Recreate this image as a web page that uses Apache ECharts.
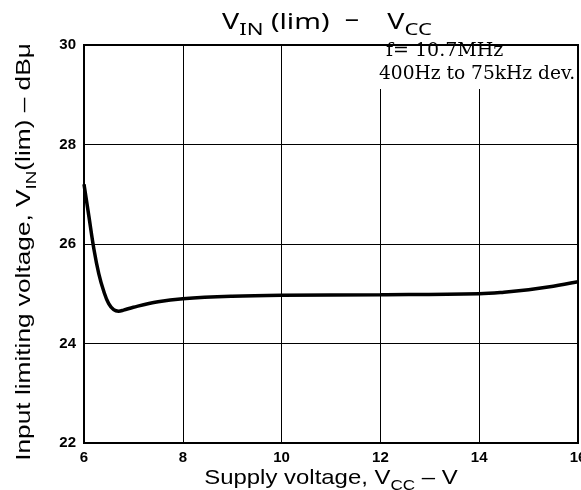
<!DOCTYPE html>
<html><head><meta charset="utf-8">
<script src="https://cdn.jsdelivr.net/npm/echarts@6/dist/echarts.min.js"></script>
<style>html,body{margin:0;padding:0;background:#fff}#c{width:581px;height:490px}</style>
</head><body><div id="c"></div>
<script>
const xTicks = [6, 8, 10, 12, 14, 16];
const yTicks = [22, 24, 26, 28, 30];
const vcc = [6.0, 6.1, 6.2, 6.3, 6.4, 6.5, 6.6, 6.7, 6.8, 7.0, 7.5, 8.0, 9.0, 10, 12, 14, 14.5, 15, 15.5, 16];
const vinLim = [27.2, 26.55, 25.9, 25.4, 25.05, 24.8, 24.68, 24.65, 24.67, 24.73, 24.84, 24.9, 24.95, 24.97, 24.98, 25.0, 25.03, 25.08, 25.15, 25.24];
const notes = ['f= 10.7MHz', '400Hz to 75kHz dev.'];
const titleParts = ['{a|V}{s|IN}{a| (lim)}', '–', '{a|V}{s|CC}'];

const chart = echarts.init(document.getElementById('c'));
const sans = '"Liberation Sans", Arial, sans-serif';
const noto = '"Noto Sans", "Liberation Sans", sans-serif';
const tickFont = {fontFamily: '"Liberation Sans Narrow", "Liberation Sans", Arial, sans-serif', fontWeight: 'bold', fontSize: 15, color: '#000'};
const richOf = (fam, big, small, shift) => ({
  a: {fontFamily: fam, fontSize: big, fill: '#000', lineHeight: big + 4, verticalAlign: 'bottom'},
  s: {fontFamily: fam, fontSize: small, fill: '#000', lineHeight: small + 2, verticalAlign: 'bottom', padding: [0, 0, -shift, 0]}
});
const serif = '19px "DejaVu Serif", serif';
chart.setOption({
  animation: false,
  backgroundColor: '#fff',
  grid: {left: 84, right: 3, top: 45, bottom: 47, outerBoundsMode: 'none', containLabel: false,
         show: true, borderColor: '#000', borderWidth: 2, backgroundColor: 'transparent'},
  xAxis: {
    type: 'value', min: xTicks[0], max: xTicks[xTicks.length - 1], interval: 2,
    axisLine: {show: true, onZero: false, lineStyle: {color: '#000', width: 2}},
    axisTick: {show: false},
    axisLabel: Object.assign({margin: 7}, tickFont),
    splitLine: {show: true, lineStyle: {color: '#000', width: 1}}
  },
  yAxis: {
    type: 'value', min: yTicks[0], max: yTicks[yTicks.length - 1], interval: 2,
    axisLine: {show: true, lineStyle: {color: '#000', width: 2}},
    axisTick: {show: false},
    axisLabel: Object.assign({margin: 8}, tickFont),
    splitLine: {show: true, lineStyle: {color: '#000', width: 1}}
  },
  graphic: [
    {type: 'text', x: 222, y: 21, scaleX: 1.3,
     style: {text: titleParts[0], rich: richOf(noto, 22, 17, 5), align: 'left', verticalAlign: 'middle'}, z: 11},
    {type: 'text', x: 352, y: 20, scaleX: 1.3,
     style: {text: titleParts[1], font: '22px ' + noto, fill: '#000', align: 'center', verticalAlign: 'middle'}, z: 11},
    {type: 'text', x: 432, y: 21, scaleX: 1.3,
     style: {text: titleParts[2], rich: richOf(noto, 22, 17, 5), align: 'right', verticalAlign: 'middle'}, z: 11},
    {type: 'text', x: 331, y: 476, scaleX: 1.14,
     style: {text: '{a|Supply voltage, V}{s|CC}{a| – V}', rich: richOf(sans, 21, 15, 5), align: 'center', verticalAlign: 'middle'}, z: 11},
    {type: 'text', x: 22, y: 252, rotation: Math.PI / 2, scaleX: 1.25,
     style: {text: '{a|Input limiting voltage, V}{s|IN}{a|(lim) – dBμ}', rich: richOf(sans, 21, 15, 5), align: 'center', verticalAlign: 'middle'}, z: 11},
    {type: 'rect', shape: {x: 376, y: 46, width: 201, height: 43}, style: {fill: '#fff'}, silent: true, z: 10},
    {type: 'text', x: 386, y: 61, style: {text: notes[0], font: serif, fill: '#000', verticalAlign: 'bottom'}, z: 11},
    {type: 'text', x: 379, y: 84, scaleX: 0.98, style: {text: notes[1], font: serif, fill: '#000', verticalAlign: 'bottom'}, z: 11}
  ],
  series: [{
    type: 'line', data: vcc.map((v, i) => [v, vinLim[i]]),
    smooth: 0.4, showSymbol: false, clip: true,
    lineStyle: {color: '#000', width: 3.5}
  }]
});
</script></body></html>
